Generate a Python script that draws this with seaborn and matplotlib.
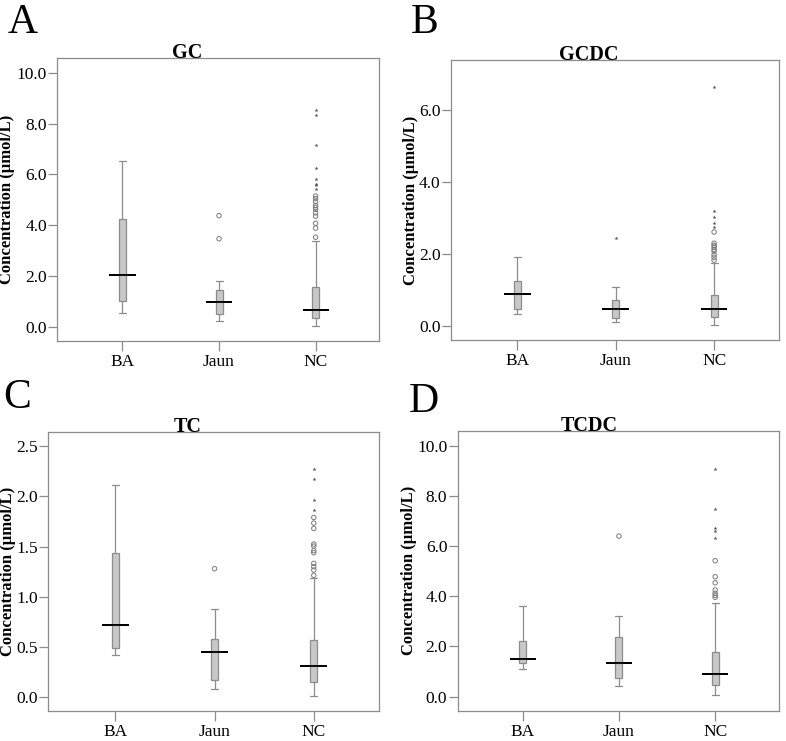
import numpy as np
import pandas as pd
import matplotlib
matplotlib.use("Agg")
import matplotlib.pyplot as plt
from matplotlib.ticker import FormatStrFormatter
import seaborn as sns

sns.set_theme(style="white")
plt.rcParams['font.family'] = ['Liberation Serif', 'DejaVu Serif']

groups = ["BA", "Jaun", "NC"]

# ---- GC ----
gc_low = [0.56, 0.24, 0.04]
gc_q1 = [1.01, 0.51, 0.37]
gc_med = [2.03, 0.97, 0.68]
gc_q3 = [4.23, 1.44, 1.59]
gc_high = [6.54, 1.82, 3.39]
gc_out = [[], [4.38, 3.47],
          [5.15, 5.05, 4.94, 4.78, 4.71, 4.63, 4.49, 4.36, 4.08, 3.89, 3.53]]
gc_ext = [[], [], [8.53, 8.35, 7.14, 6.27, 5.83, 5.62, 5.57, 5.44]]

# ---- GCDC ----
gcdc_low = [0.32, 0.12, 0.03]
gcdc_q1 = [0.48, 0.21, 0.24]
gcdc_med = [0.88, 0.46, 0.47]
gcdc_q3 = [1.26, 0.73, 0.85]
gcdc_high = [1.93, 1.07, 1.74]
gcdc_out = [[], [], [2.61, 2.30, 2.24, 2.19, 2.13, 2.08, 1.98, 1.91, 1.83]]
gcdc_ext = [[], [2.44], [6.65, 3.19, 3.03, 2.85, 2.76]]

# ---- TC ----
tc_low = [0.42, 0.08, 0.013]
tc_q1 = [0.494, 0.169, 0.149]
tc_med = [0.716, 0.454, 0.315]
tc_q3 = [1.436, 0.584, 0.567]
tc_high = [2.11, 0.882, 1.184]
tc_out = [[], [1.28],
          [1.79, 1.734, 1.68, 1.525, 1.505, 1.459, 1.439, 1.333, 1.30, 1.267, 1.214]]
tc_ext = [[], [], [2.275, 2.172, 1.963, 1.86]]

# ---- TCDC ----
tcdc_low = [1.09, 0.42, 0.05]
tcdc_q1 = [1.33, 0.74, 0.45]
tcdc_med = [1.49, 1.35, 0.92]
tcdc_q3 = [2.23, 2.36, 1.79]
tcdc_high = [3.60, 3.23, 3.73]
tcdc_out = [[], [6.4], [5.42, 4.78, 4.54, 4.25, 4.12, 4.04, 3.96]]
tcdc_ext = [[], [], [9.08, 7.48, 6.71, 6.61, 6.34]]

titles = ["GC", "GCDC", "TC", "TCDC"]
letters = ["A", "B", "C", "D"]

W, H = 786, 741
LINE = "#8c8c8c"


def long_df(lists):
    return pd.DataFrame({
        "group": [g for g, vals in zip(groups, lists) for _ in vals],
        "value": [v for vals in lists for v in vals],
    })


def panel(ax, title, lows, q1s, meds, q3s, highs, outs, exts,
          ylim, yticks, title_x, ylabel_x):
    box_df = pd.DataFrame({
        "group": np.repeat(groups, 5),
        "value": np.ravel(np.column_stack([lows, q1s, meds, q3s, highs])),
    })
    sns.boxplot(data=box_df, x="group", y="value", order=groups, ax=ax,
                width=0.072, whis=(0, 100), color="#c8c8c8",
                linecolor=LINE, linewidth=0.9, showfliers=False,
                capwidths=0.072)
    med_df = pd.DataFrame({"group": groups, "value": meds})
    sns.boxplot(data=med_df, x="group", y="value", order=groups, ax=ax,
                width=0.25, fill=False, color="black", linewidth=1.2,
                whis=(0, 100), showfliers=False)
    odf = long_df(outs)
    if len(odf):
        n0 = len(ax.collections)
        sns.stripplot(data=odf, x="group", y="value", order=groups, ax=ax,
                      jitter=False, marker="o", size=3.2, color="#7a7a7a",
                      edgecolor="#7a7a7a", linewidth=0.7, zorder=3)
        for c in ax.collections[n0:]:
            c.set_facecolor("none")
    edf = long_df(exts)
    if len(edf):
        sns.stripplot(data=edf, x="group", y="value", order=groups, ax=ax,
                      jitter=False, marker="*", size=3.0, color="#555555",
                      linewidth=0, zorder=3)
    ax.set_xlim(-0.675, 2.66)
    ax.set_ylim(*ylim)
    ax.set_yticks(yticks)
    ax.yaxis.set_major_formatter(FormatStrFormatter('%.1f'))
    ax.set_xlabel("")
    ax.set_ylabel("Concentration (μmol/L)", fontsize=12, fontweight="bold",
                  color="black")
    ax.yaxis.set_label_coords(ylabel_x, 0.5)
    for s in ax.spines.values():
        s.set_visible(True)
        s.set_color(LINE)
        s.set_linewidth(0.9)
    ax.tick_params(axis="y", left=True, direction="out", length=6.5,
                   width=0.9, color=LINE, pad=1, labelsize=12.5,
                   labelcolor="black")
    ax.tick_params(axis="x", bottom=True, direction="out", length=7.2,
                   width=0.9, color=LINE, pad=2.5, labelsize=12.5,
                   labelcolor="black")
    ax.text(title_x, 1.0, title, transform=ax.transAxes, ha="center",
            va="baseline", fontsize=14.5, fontweight="bold", color="black",
            zorder=5)


fig = plt.figure(figsize=(W / 100, H / 100), dpi=100)
fig.patch.set_facecolor("white")


def add_axes_px(left, right, top, bottom):
    return fig.add_axes([left / W, 1 - bottom / H, (right - left) / W,
                         (bottom - top) / H])


axA = add_axes_px(57.3, 379.3, 58.3, 340.7)
axB = add_axes_px(451.0, 779.0, 60.0, 340.0)
axC = add_axes_px(48.3, 379.3, 431.7, 710.7)
axD = add_axes_px(457.7, 778.7, 431.0, 710.7)

panel(axA, titles[0], gc_low, gc_q1, gc_med, gc_q3, gc_high, gc_out, gc_ext,
      (-0.54, 10.57), [0, 2, 4, 6, 8, 10], 0.403, -0.13)
panel(axB, titles[1], gcdc_low, gcdc_q1, gcdc_med, gcdc_q3, gcdc_high,
      gcdc_out, gcdc_ext, (-0.39, 7.39), [0, 2, 4, 6], 0.421, -0.098)
panel(axC, titles[2], tc_low, tc_q1, tc_med, tc_q3, tc_high, tc_out, tc_ext,
      (-0.133, 2.643), [0, 0.5, 1.0, 1.5, 2.0, 2.5], 0.422, -0.098)
panel(axD, titles[3], tcdc_low, tcdc_q1, tcdc_med, tcdc_q3, tcdc_high,
      tcdc_out, tcdc_ext, (-0.56, 10.59), [0, 2, 4, 6, 8, 10], 0.409, -0.127)

for letter, (x, yb) in zip(letters, [(8, 33.3), (411, 33.3), (3.3, 407.5),
                                      (409, 411.5)]):
    fig.text(x / W, 1 - yb / H, letter, fontsize=30, ha="left",
             va="baseline", color="black")

fig.savefig("out.png", dpi=100, facecolor="white")
